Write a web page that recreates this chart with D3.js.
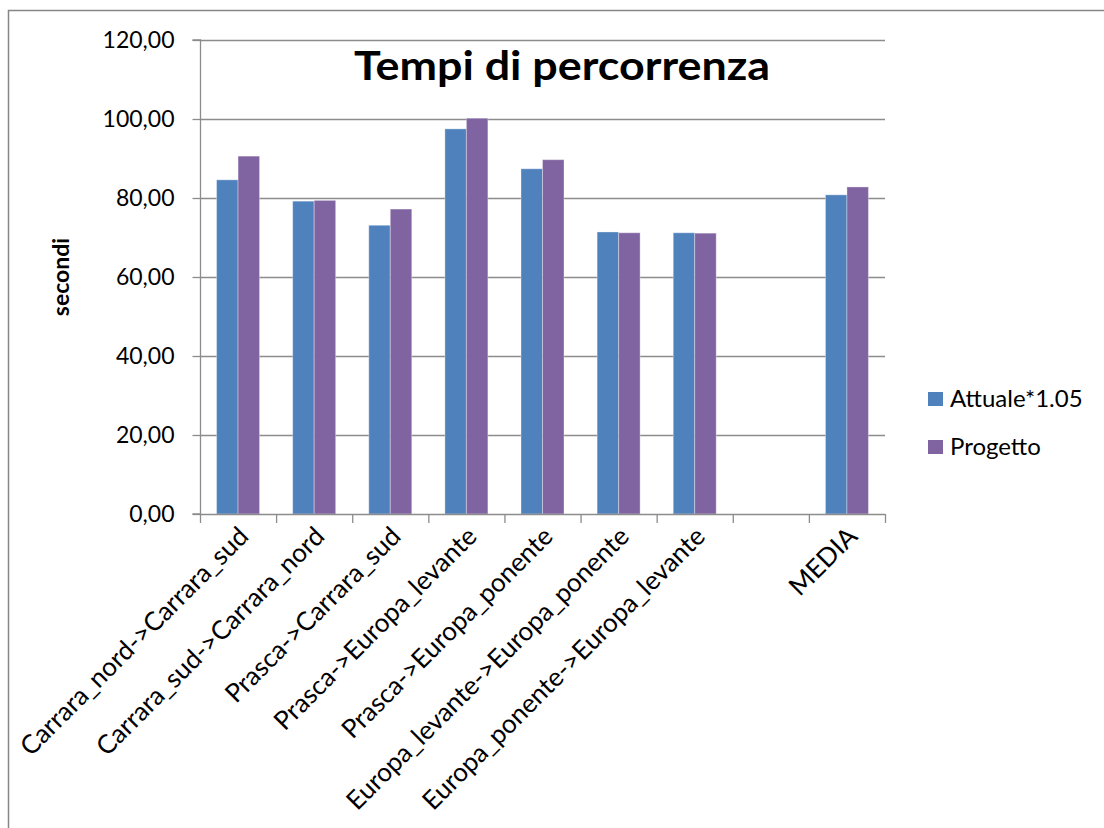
<!DOCTYPE html>
<html>
<head>
<meta charset="utf-8">
<script src="https://cdn.jsdelivr.net/npm/d3@7"></script>
<style>
  body { margin: 0; background: #fff; }
  svg { display: block; font-family: Lato, "Open Sans", sans-serif; }
</style>
</head>
<body>
<svg id="chart" width="1104" height="828"></svg>
<script>
const categories = [
  "Carrara_nord->Carrara_sud",
  "Carrara_sud->Carrara_nord",
  "Prasca->Carrara_sud",
  "Prasca->Europa_levante",
  "Prasca->Europa_ponente",
  "Europa_levante->Europa_ponente",
  "Europa_ponente->Europa_levante",
  "",
  "MEDIA"
];
const seriesNames = ["Attuale*1.05", "Progetto"];
const attuale = [84.6, 79.2, 73.1, 97.5, 87.4, 71.4, 71.2, null, 80.8];
const progetto = [90.6, 79.4, 77.2, 100.2, 89.7, 71.2, 71.1, null, 82.8];
const yTicks = [0, 20, 40, 60, 80, 100, 120];
const colors = ["#4F81BD", "#8064A2"];

const svg = d3.select("#chart");
const L = 200, R = 885, T = 40, B = 514;

// outer chart border (only left and top visible)
svg.append("rect").attr("x", 8.5).attr("y", 10.5).attr("width", 1200).attr("height", 900)
  .attr("fill", "none").attr("stroke", "#868686").attr("stroke-width", 1.5);

const keys = categories.map((c, i) => "k" + i);
const x0 = d3.scaleBand().domain(keys).range([L, R]).padding(0);
const x1 = d3.scaleBand().domain(seriesNames).range([0, x0.bandwidth()]).paddingInner(0).paddingOuter(0.77);
const y = d3.scaleLinear().domain([0, 120]).range([B, T]);

// gridlines
svg.append("g").selectAll("line").data(yTicks.filter(d => d > 0)).join("line")
  .attr("x1", L).attr("x2", R).attr("y1", d => y(d) + 0.5).attr("y2", d => y(d) + 0.5)
  .attr("stroke", "#8c8c8c").attr("stroke-width", 1.3);

// bars
const data = keys.map((k, i) => ({ k, vals: [attuale[i], progetto[i]] }));
const g = svg.append("g");
data.forEach(d => {
  d.vals.forEach((v, j) => {
    if (v == null) return;
    g.append("rect")
      .attr("x", x0(d.k) + x1(seriesNames[j]))
      .attr("y", y(v))
      .attr("width", x1.bandwidth())
      .attr("height", y(0) - y(v))
      .attr("fill", colors[j])
      .attr("stroke", "rgba(255,255,255,0.35)")
      .attr("stroke-width", 1);
  });
});

// y axis
const yAxis = d3.axisLeft(y).tickValues(yTicks).tickSize(8).tickPadding(18)
  .tickFormat(d => d3.format(".2f")(d).replace(".", ","));
const ya = svg.append("g").attr("transform", `translate(${L + 0.5},0)`).call(yAxis);
ya.select(".domain").attr("stroke", "#8c8c8c").attr("stroke-width", 1.3).attr("d", `M-8,${T}H0V${B}H-8`);
ya.selectAll(".tick line").attr("stroke", "#8c8c8c").attr("stroke-width", 1.3);
ya.selectAll(".tick text").attr("font-size", 23).attr("fill", "#000").attr("font-family", "Lato, sans-serif");

// x axis line
svg.append("line").attr("x1", L).attr("x2", R).attr("y1", B + 0.5).attr("y2", B + 0.5)
  .attr("stroke", "#8c8c8c").attr("stroke-width", 1.3);
// x tick marks at category boundaries
const bounds = keys.map(k => x0(k)).concat([x0(keys[keys.length - 1]) + x0.bandwidth()]);
svg.append("g").selectAll("line").data(bounds).join("line")
  .attr("x1", d => d + 0.5).attr("x2", d => d + 0.5).attr("y1", B).attr("y2", B + 9)
  .attr("stroke", "#8c8c8c").attr("stroke-width", 1.3);

// x labels
const xl = svg.append("g");
keys.forEach((k, i) => {
  if (!categories[i]) return;
  const cx = x0(k) + x0.bandwidth() / 2 + 12;
  const cy = B + 24;
  xl.append("text")
    .attr("transform", `translate(${cx},${cy}) rotate(-45)`)
    .attr("text-anchor", "end")
    .attr("font-size", 26)
    .attr("fill", "#000")
    .text(categories[i]);
});

// title
svg.append("text").attr("x", 562).attr("y", 80).attr("text-anchor", "middle")
  .attr("font-size", 41).attr("font-weight", "bold").attr("fill", "#000")
  .attr("textLength", 416).attr("lengthAdjust", "spacingAndGlyphs")
  .text("Tempi di percorrenza");

// y label
svg.append("text").attr("transform", "translate(69,277) rotate(-90)")
  .attr("text-anchor", "middle").attr("font-size", 23).attr("font-weight", "bold")
  .attr("fill", "#000").text("secondi");

// legend
const leg = svg.append("g");
const legY = [399, 447];
seriesNames.forEach((s, i) => {
  const ly = legY[i];
  leg.append("rect").attr("x", 928).attr("y", ly - 7).attr("width", 15).attr("height", 14).attr("fill", colors[i]);
  leg.append("text").attr("x", 950).attr("y", ly).attr("dy", "0.35em")
    .attr("font-size", 24).attr("fill", "#000").text(s);
});
</script>
</body>
</html>
